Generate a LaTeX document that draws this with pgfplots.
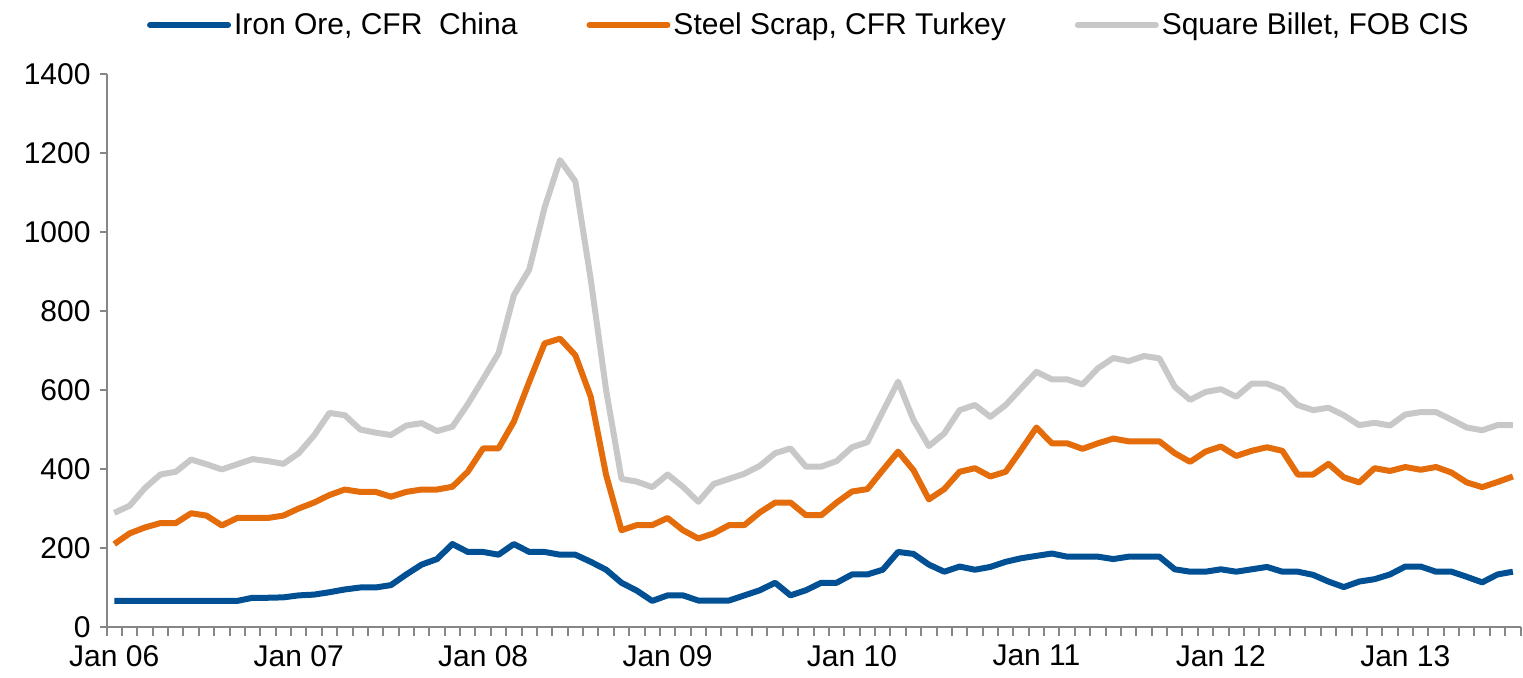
\documentclass[border=0pt]{standalone}
\usepackage{pgfplots}
\usepackage{pgfplotstable}
\pgfplotsset{compat=1.18}
\usepackage{fontspec}
\setmainfont{Liberation Sans}
\definecolor{ironblue}{RGB}{0,80,147}
\definecolor{scraporange}{RGB}{228,108,10}
\definecolor{billetgray}{RGB}{200,200,200}
\definecolor{axisgray}{RGB}{134,134,134}

\pgfplotstableread{
i ore scrap billet
0 66 210 289
1 66 237 307
2 66 252 352
3 66 263 386
4 66 263 393
5 66 288 424
6 66 282 412
7 66 257 399
8 66 276 412
9 74 276 425
10 74 276 420
11 75 282 413
12 80 300 440
13 82 315 485
14 88 334 542
15 95 348 536
16 100 342 500
17 100 342 492
18 106 330 486
19 133 342 510
20 158 348 516
21 172 348 496
22 210 355 507
23 190 393 564
24 190 452 628
25 183 452 693
26 210 520 840
27 190 621 905
28 190 718 1062
29 183 730 1182
30 183 688 1128
31 165 583 880
32 145 385 600
33 112 245 375
34 92 258 368
35 66 258 354
36 80 276 386
37 80 245 355
38 67 224 317
39 67 237 362
40 67 258 375
41 80 258 388
42 93 290 408
43 112 315 440
44 80 315 452
45 93 283 406
46 112 283 406
47 112 315 420
48 133 343 455
49 133 349 468
50 145 397 545
51 190 444 621
52 185 397 524
53 158 323 458
54 140 349 490
55 153 393 549
56 145 402 562
57 152 381 532
58 165 393 562
59 174 448 604
60 180 505 646
61 186 465 627
62 178 465 627
63 178 451 614
64 178 465 655
65 172 477 681
66 178 470 673
67 178 470 686
68 178 470 680
69 146 440 608
70 140 418 575
71 140 444 595
72 146 457 602
73 140 433 583
74 146 446 616
75 152 455 616
76 140 446 601
77 140 386 562
78 132 386 549
79 115 413 555
80 101 379 536
81 115 366 511
82 121 402 517
83 133 395 510
84 153 405 538
85 153 398 544
86 140 405 544
87 140 391 525
88 127 366 505
89 113 354 498
90 133 367 511
91 140 381 511
}\datatable

\begin{document}
\begin{tikzpicture}
\useasboundingbox (0,0) rectangle (761.5pt,339pt);
\begin{axis}[
  at={(53.3pt,25.5pt)}, anchor=south west,
  scale only axis, width=707pt, height=276.5pt,
  xmin=-0.5, xmax=91.5, ymin=0, ymax=1400,
  axis x line*=bottom, axis y line*=left,
  axis line style={axisgray, line width=1pt},
  xtick={0,12,...,84},
  xticklabels={Jan 06,Jan 07,Jan 08,Jan 09,Jan 10,Jan 11,Jan 12,Jan 13},
  minor xtick={-0.5,0.5,...,91.5},
  major x tick style={draw=none},
  minor x tick style={axisgray, line width=1pt},
  ytick={0,200,...,1400},
  y tick style={axisgray, line width=1pt},
  tick align=outside,
  major tick length=3.5pt,
  minor tick length=4.5pt,
  tick label style={font=\fontsize{15}{18}\selectfont},
  /pgf/number format/assume math mode=true,
  /pgf/number format/1000 sep={},
  yticklabel style={xshift=-1pt},
  xticklabel style={yshift=-2pt},
  legend style={at={(0.497,1.0886)}, anchor=center, draw=none, fill=none,
    font=\fontsize{15}{18}\selectfont, legend columns=3,
    /tikz/every even column/.append style={column sep=33pt},
    nodes={inner sep=1.5pt}},
  legend image code/.code={\draw[#1, line width=3pt, line cap=round] (0pt,0pt) -- (39pt,0pt);},
  every axis plot/.append style={line width=3pt, line join=round, no markers},
]
\addplot[ironblue] table[x=i, y=ore] {\datatable};
\addlegendentry{Iron Ore, CFR\ \ China}
\addplot[scraporange] table[x=i, y=scrap] {\datatable};
\addlegendentry{Steel Scrap, CFR Turkey}
\addplot[billetgray] table[x=i, y=billet] {\datatable};
\addlegendentry{Square Billet, FOB CIS}
\end{axis}
\end{tikzpicture}
\end{document}
